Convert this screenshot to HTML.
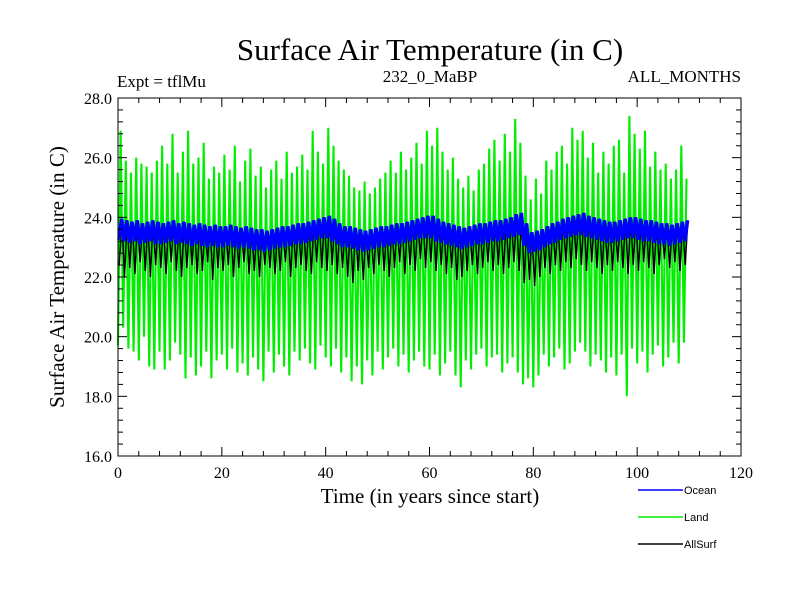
<!DOCTYPE html>
<html><head><meta charset="utf-8"><style>
body{margin:0;background:#fff}
svg{display:block}
text{font-family:"Liberation Serif",serif;fill:#000}
.lg{font-family:"Liberation Sans",sans-serif;font-size:11px}
</style></head><body>
<svg id="chart" width="800" height="600">
<text x="430" y="60" font-size="31" text-anchor="middle">Surface Air Temperature (in C)</text>
<text x="117" y="87" font-size="17">Expt = tflMu</text>
<text x="430" y="82" font-size="17" text-anchor="middle">232_0_MaBP</text>
<text x="741" y="82" font-size="17" text-anchor="end">ALL_MONTHS</text>
<text transform="translate(64,277) rotate(-90)" font-size="21" text-anchor="middle">Surface Air Temperature (in C)</text>
<text x="430" y="503" font-size="21" text-anchor="middle">Time (in years since start)</text>
<g id="plot"></g>
<g id="axes"></g>
<g>
<line x1="638" y1="490" x2="683" y2="490" stroke="#0000ff" stroke-width="1.5"/>
<text class="lg" x="684" y="494">Ocean</text>
<line x1="638" y1="517" x2="683" y2="517" stroke="#00ee00" stroke-width="1.5"/>
<text class="lg" x="684" y="521">Land</text>
<line x1="638" y1="544" x2="683" y2="544" stroke="#000" stroke-width="1.5"/>
<text class="lg" x="684" y="548">AllSurf</text>
</g>
</svg>
<script>
const xTicks=[0,20,40,60,80,100,120];
const yTicks=[16,18,20,22,24,26,28];
const yTickLabels=["16.0","18.0","20.0","22.0","24.0","26.0","28.0"];
const landPeak=[26.9,25.9,25.5,26.0,25.8,25.7,25.5,25.9,26.4,25.8,26.8,25.5,26.2,26.9,25.8,26.0,26.5,25.3,25.7,25.5,26.1,25.6,26.4,25.2,25.9,26.3,25.4,25.7,25.0,25.6,25.9,25.3,26.2,25.5,25.7,26.1,25.6,26.9,26.2,25.8,27.0,26.4,25.9,25.6,25.4,25.0,24.9,25.2,24.8,25.0,25.3,25.5,25.9,25.5,26.2,25.6,26.0,26.5,25.8,26.9,26.4,27.0,26.2,25.6,26.0,25.3,25.0,25.4,24.9,25.6,25.8,26.3,26.6,25.9,26.8,26.2,27.3,26.5,25.4,24.6,25.3,24.8,25.9,25.6,26.2,26.4,25.8,27.0,26.6,26.9,26.0,26.5,25.5,26.2,25.8,26.4,26.6,25.5,27.4,26.8,26.3,26.9,25.7,26.2,25.6,25.8,25.3,25.6,26.4,25.3];
const landTrough=[19.7,20.3,19.6,19.5,19.2,20.0,19.0,18.9,19.5,18.9,19.2,19.8,19.4,18.6,19.3,18.7,19.0,19.5,18.6,19.2,19.4,18.9,19.6,18.8,19.1,18.7,19.3,18.9,18.5,19.5,18.8,19.4,19.0,18.7,19.5,19.2,19.6,19.1,18.9,19.7,19.3,19.0,19.6,18.8,19.3,18.5,19.0,18.4,19.2,18.7,19.5,18.9,19.3,19.6,19.0,19.4,18.8,19.2,19.5,19.0,18.9,19.4,18.7,19.1,19.5,18.7,18.3,19.2,18.9,19.4,19.6,19.0,19.3,19.4,18.8,19.1,19.3,18.8,18.4,18.6,18.3,18.7,19.4,19.0,19.3,19.6,18.9,19.1,19.5,19.8,19.5,19.0,19.4,19.2,18.8,19.3,18.7,19.4,18.0,19.6,19.1,19.5,18.8,19.4,19.7,19.0,19.3,19.8,19.1,19.8];
const oceanHi=[23.95,23.9,23.85,23.9,23.8,23.85,23.9,23.85,23.8,23.85,23.9,23.8,23.85,23.8,23.75,23.8,23.75,23.7,23.75,23.7,23.7,23.75,23.7,23.65,23.7,23.65,23.6,23.6,23.55,23.6,23.65,23.7,23.7,23.75,23.8,23.8,23.85,23.9,23.95,24.0,24.05,23.95,23.8,23.7,23.7,23.65,23.6,23.55,23.6,23.65,23.7,23.7,23.75,23.8,23.8,23.85,23.9,23.95,24.0,24.05,24.05,23.95,23.85,23.8,23.75,23.7,23.65,23.7,23.75,23.8,23.8,23.85,23.9,23.9,23.95,24.0,24.1,24.15,23.8,23.5,23.55,23.6,23.7,23.8,23.85,23.95,24.0,24.05,24.1,24.15,24.05,24.0,23.95,23.9,23.85,23.85,23.9,23.95,24.0,24.0,23.95,23.9,23.9,23.85,23.8,23.8,23.75,23.8,23.85,23.9];
const oceanLo=[23.25,23.2,23.15,23.2,23.1,23.15,23.2,23.1,23.1,23.15,23.2,23.1,23.15,23.1,23.05,23.1,23.05,23.0,23.05,23.0,23.0,23.05,23.0,22.95,23.0,22.95,22.9,22.9,22.85,22.9,22.95,23.0,23.0,23.05,23.1,23.1,23.15,23.2,23.25,23.3,23.3,23.2,23.1,23.0,23.0,22.95,22.9,22.85,22.9,22.95,23.0,23.0,23.05,23.1,23.1,23.15,23.2,23.25,23.3,23.3,23.3,23.2,23.15,23.1,23.05,23.0,22.95,23.0,23.05,23.1,23.1,23.15,23.2,23.2,23.25,23.3,23.35,23.4,23.05,22.8,22.85,22.9,23.0,23.1,23.15,23.25,23.3,23.35,23.4,23.4,23.35,23.3,23.25,23.2,23.15,23.15,23.2,23.25,23.3,23.3,23.25,23.2,23.2,23.15,23.1,23.1,23.05,23.1,23.15,23.2];
const allLo=[22.4,22.0,22.3,22.1,22.5,22.2,22.0,22.4,22.3,22.1,22.5,22.2,22.0,22.3,22.4,22.1,22.2,22.5,21.9,22.3,22.2,22.4,22.0,22.3,22.5,22.1,22.2,22.0,22.4,22.3,22.1,22.2,22.5,22.0,22.3,22.4,22.2,22.1,22.5,22.3,22.2,22.4,22.1,22.3,22.0,21.8,22.2,21.9,22.3,22.1,22.4,22.2,22.0,22.3,22.5,22.1,22.4,22.2,22.6,22.3,22.5,22.2,22.4,22.1,22.3,21.9,22.0,22.2,22.4,22.1,22.3,22.5,22.2,22.4,22.1,22.3,22.5,22.2,21.8,21.9,21.7,22.0,22.3,22.1,22.4,22.2,22.5,22.3,22.6,22.4,22.2,22.5,22.3,22.1,22.4,22.2,22.5,22.3,22.1,22.4,22.2,22.5,22.3,22.1,22.4,22.6,22.3,22.5,22.2,22.4];
const NS="http://www.w3.org/2000/svg";
const X0=118,X1=741,Y0=456,Y1=98;
const xs=v=>X0+(v-0)/(120-0)*(X1-X0);
const ys=v=>Y0-(v-16)/(28-16)*(Y0-Y1);
const plot=document.getElementById('plot');
function zig(lo,hi,off){let d='';for(let i=0;i<lo.length;i++){d+=(i?'L':'M')+xs(i+off).toFixed(1)+','+ys(lo[i]).toFixed(1)+'L'+xs(i+off+0.5).toFixed(1)+','+ys(hi[i]).toFixed(1);}return d;}
function addPath(d,color,w,name){const p=document.createElementNS(NS,'path');p.setAttribute('d',d);p.setAttribute('stroke',color);p.setAttribute('stroke-width',w);p.setAttribute('fill','none');


plot.appendChild(p);}
addPath(zig(landTrough,landPeak,0.0),'#00ee00',2.1,'land-series');
addPath(zig(allLo,oceanHi,0.25),'#000000',1.5,'allsurf-series');
addPath(zig(oceanLo,oceanHi,0.2),'#0000ff',3.6,'ocean-series');
const ax=document.getElementById('axes');
function el(tag,attrs){const e=document.createElementNS(NS,tag);for(const k in attrs)e.setAttribute(k,attrs[k]);ax.appendChild(e);return e;}
const fr=el('rect',{x:X0,y:Y1,width:X1-X0,height:Y0-Y1,fill:'none',stroke:'#000','stroke-width':1});


for(let v=0;v<=120;v+=4){const maj=v%20===0,l=maj?9:5;
el('line',{x1:xs(v),y1:Y0,x2:xs(v),y2:Y0-l,stroke:'#000'});el('line',{x1:xs(v),y1:Y1,x2:xs(v),y2:Y1+l,stroke:'#000'});}
for(let v=16;v<=28.001;v+=0.4){const maj=Math.abs(v-Math.round(v/2)*2)<0.01,l=maj?9:5;
el('line',{x1:X0,y1:ys(v),x2:X0+l,y2:ys(v),stroke:'#000'});el('line',{x1:X1,y1:ys(v),x2:X1-l,y2:ys(v),stroke:'#000'});}
xTicks.forEach(v=>{const t=el('text',{x:xs(v),y:Y0+22,'font-size':16,'text-anchor':'middle'});t.textContent=v;

});
yTicks.forEach((v,i)=>{const t=el('text',{x:X0-6,y:ys(v)+6,'font-size':16,'text-anchor':'end'});t.textContent=yTickLabels[i];

});
</script>
</body></html>
